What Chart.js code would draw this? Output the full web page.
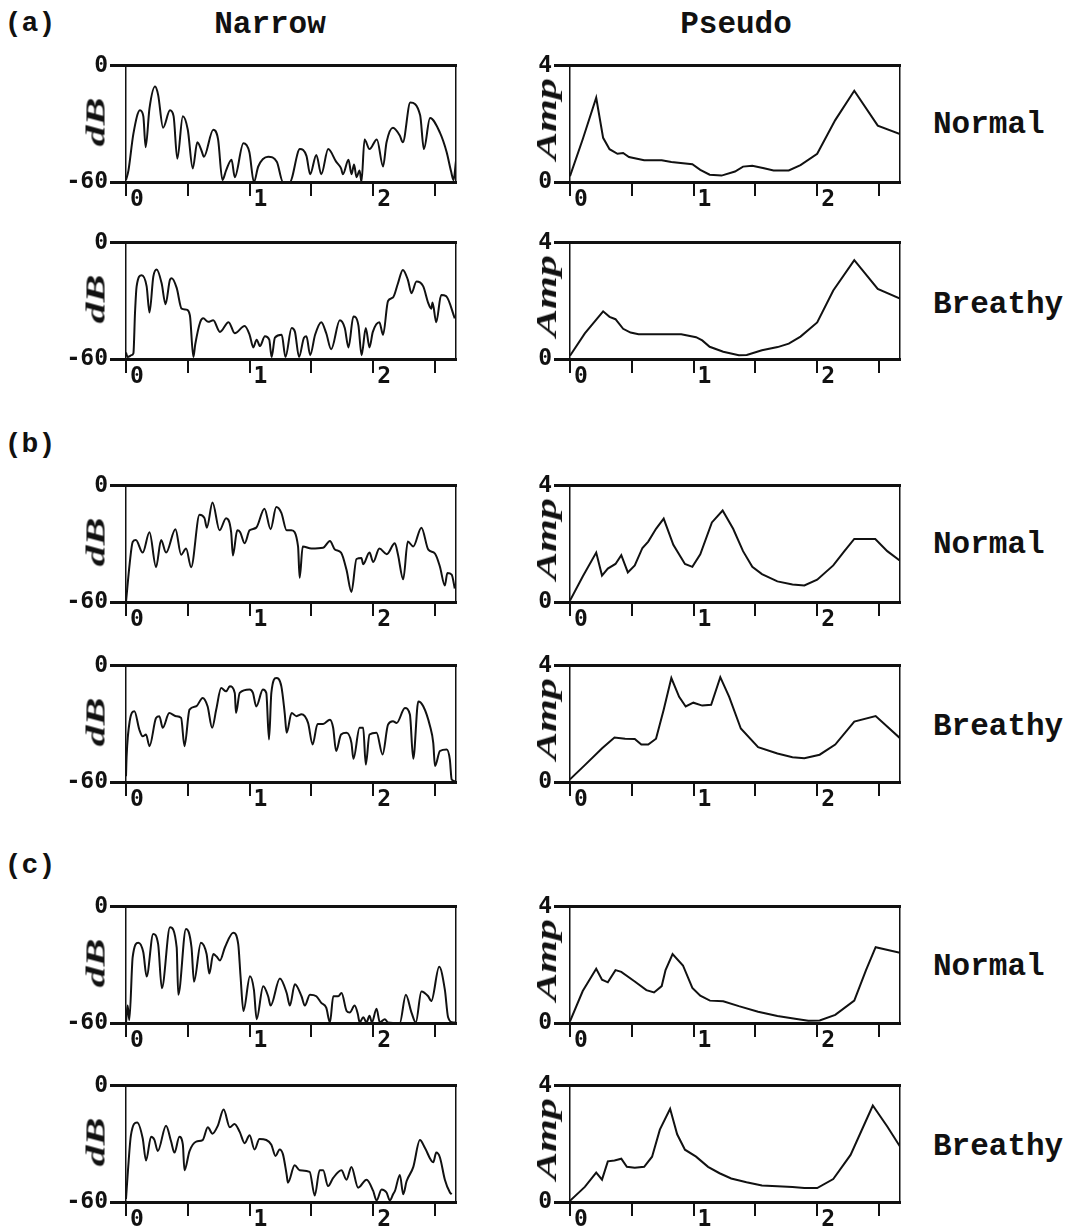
<!DOCTYPE html>
<html>
<head>
<meta charset="utf-8">
<script src="https://cdn.jsdelivr.net/npm/chart.js@4.4.1/dist/chart.umd.min.js"></script>
<style>
  body { margin: 0; background: #fff; }
  #page { position: relative; width: 1073px; height: 1232px; overflow: hidden; }
  canvas { position: absolute; }
  .t { position: absolute; font-family: "Liberation Mono", monospace; font-weight: bold; color: #111;
       white-space: nowrap; transform: translate(-50%, -50%); }
  .row { position: absolute; font-family: "Liberation Mono", monospace; font-weight: bold; color: #111;
         white-space: nowrap; font-size: 31px; transform: translateY(-50%); }
  .ax { position: absolute; font-family: "Liberation Serif", serif; font-weight: bold; font-style: italic;
        color: #111; white-space: nowrap; line-height: 1; }
</style>
</head>
<body>
<div id="page">
  <div class="t" style="left:30px;top:23px;font-size:28px">(a)</div>
  <div class="t" style="left:30px;top:444px;font-size:28px">(b)</div>
  <div class="t" style="left:30px;top:865px;font-size:28px">(c)</div>
  <div class="t" style="left:270px;top:24px;font-size:31px">Narrow</div>
  <div class="t" style="left:736px;top:24px;font-size:31px">Pseudo</div>
  <div class="row" style="left:933px;top:124px">Normal</div>
  <div class="row" style="left:933px;top:304px">Breathy</div>
  <div class="row" style="left:933px;top:544px">Normal</div>
  <div class="row" style="left:933px;top:726px">Breathy</div>
  <div class="row" style="left:933px;top:966px">Normal</div>
  <div class="row" style="left:933px;top:1146px">Breathy</div>
</div>
<script>
// frequency axis (kHz), shared by every panel
const X_MIN = 0, X_MAX = 2.67, X_STEP = 0.5;
const DB_TICKS = [-60, 0];
const AMP_TICKS = [0, 4];

// ---- (a) narrow-band spectra, dB ----
const aNormNarrowF = [0,0.02,0.06,0.113,0.14,0.159,0.19,0.235,0.26,0.30,0.356,0.385,0.415,0.46,0.50,0.54,0.577,0.612,0.63,0.706,0.745,0.78,0.81,0.854,0.88,0.95,0.998,1.035,1.07,1.15,1.22,1.27,1.325,1.407,1.46,1.49,1.54,1.58,1.636,1.70,1.74,1.755,1.80,1.825,1.845,1.865,1.89,1.905,1.93,1.97,2.03,2.08,2.108,2.16,2.215,2.24,2.30,2.38,2.41,2.46,2.54,2.594,2.63,2.65,2.67];
const aNormNarrowDb = [-59,-54,-35,-23,-26,-42,-22,-10.7,-15,-32,-23,-26,-48,-26,-33,-53,-39.5,-44,-47,-33,-38,-59,-54,-48.5,-57.5,-40,-44.5,-60,-52,-47,-49.5,-60,-60,-43,-46.5,-56,-46,-56,-43,-49.5,-53,-56,-48.5,-56,-51,-57.5,-54,-60,-38,-43,-38,-52,-39.5,-32,-36,-39.5,-19,-25.5,-43,-27,-34.5,-44.5,-54.5,-59,-49];
const aBreNarrowF = [0,0.013,0.046,0.06,0.073,0.086,0.127,0.167,0.19,0.221,0.248,0.288,0.32,0.356,0.37,0.41,0.45,0.49,0.517,0.545,0.56,0.60,0.625,0.665,0.706,0.76,0.83,0.88,0.96,1.0,1.03,1.057,1.084,1.124,1.159,1.178,1.205,1.26,1.29,1.34,1.367,1.40,1.44,1.46,1.49,1.53,1.58,1.62,1.66,1.73,1.77,1.80,1.84,1.88,1.906,1.94,1.97,1.997,2.05,2.08,2.12,2.16,2.20,2.24,2.28,2.31,2.35,2.405,2.445,2.47,2.48,2.51,2.55,2.59,2.66];
const aBreNarrowDb = [-56.7,-59,-58,-57,-36,-22.5,-16.7,-22.5,-36,-17.5,-13.8,-20.8,-31.7,-19,-18.3,-23.3,-34,-34.5,-37.5,-59,-52.5,-41,-39,-40.8,-40,-46,-41,-46.7,-43,-47.5,-54,-50,-53.3,-48.3,-50,-59,-49,-47.5,-59,-44,-46,-59,-49,-48.3,-58,-47.5,-41,-46.7,-55,-40,-44,-54,-38,-42.5,-58,-44,-54,-46,-41,-47.5,-30,-28.3,-21,-14,-19,-26,-20,-22.5,-31,-34,-30.8,-41,-27,-27.5,-39];

// ---- (b) narrow-band spectra, dB ----
const bNormNarrowF = [0,0.03,0.054,0.08,0.135,0.19,0.243,0.284,0.324,0.40,0.446,0.486,0.527,0.595,0.635,0.654,0.70,0.757,0.81,0.851,0.865,0.90,0.924,0.96,1.0,1.054,1.12,1.17,1.216,1.257,1.30,1.338,1.392,1.405,1.43,1.50,1.595,1.65,1.69,1.74,1.784,1.824,1.865,1.905,1.919,1.97,2.0,2.05,2.11,2.175,2.20,2.243,2.28,2.324,2.39,2.446,2.5,2.54,2.58,2.6,2.635,2.66];
const bNormNarrowDb = [-60,-40,-29,-28,-34.5,-24,-42,-28,-34.5,-22.4,-35.6,-32.4,-42,-15,-16.7,-21.6,-8.6,-23,-16.7,-24,-36,-23,-24,-29.7,-23,-21.6,-11.8,-22.4,-11,-14,-23,-23,-31.3,-47.5,-31.3,-32.4,-32,-28.5,-32.9,-34.5,-43.4,-54.8,-37.8,-37.3,-40.5,-34.5,-39.4,-32.4,-35.3,-29.7,-35.3,-48.3,-28.8,-31.3,-21.6,-33,-35,-41.8,-51.5,-45,-45.9,-53];
const bBreNarrowF = [0,0.005,0.03,0.068,0.108,0.135,0.162,0.19,0.243,0.27,0.297,0.35,0.405,0.446,0.473,0.514,0.568,0.62,0.66,0.697,0.73,0.77,0.81,0.84,0.88,0.89,0.92,1.0,1.027,1.054,1.108,1.135,1.157,1.176,1.216,1.257,1.284,1.30,1.34,1.38,1.42,1.473,1.51,1.55,1.595,1.65,1.676,1.70,1.74,1.784,1.824,1.84,1.89,1.919,1.94,1.97,2.027,2.076,2.12,2.16,2.19,2.257,2.297,2.324,2.365,2.405,2.46,2.486,2.5,2.54,2.595,2.62,2.635,2.66];
const bBreNarrowDb = [-57,-46.6,-28.6,-23.5,-33,-36.4,-35.5,-41.5,-27,-26,-32,-24.4,-26,-26.9,-41.5,-22.6,-20.9,-16.6,-20.9,-32,-22.6,-11.5,-13.2,-10.6,-14,-24.4,-14,-12.3,-14,-21,-12.3,-14,-38,-14,-6.3,-10.6,-24.4,-34.6,-24.4,-26,-25,-29.5,-40.6,-30,-30,-27.8,-32,-44,-35.5,-34.6,-39.8,-48,-32,-32,-51,-35.5,-34.6,-45.8,-30.4,-28.6,-29.5,-21.8,-25.2,-48,-18.4,-20.9,-31.2,-39.8,-51.8,-44,-43.2,-48.3,-58.7,-59.5];

// ---- (c) narrow-band spectra, dB ----
const cNormNarrowF = [0,0.013,0.027,0.054,0.1,0.14,0.167,0.22,0.26,0.29,0.356,0.41,0.423,0.485,0.53,0.55,0.606,0.652,0.674,0.706,0.733,0.76,0.80,0.868,0.908,0.927,0.95,1.003,1.035,1.057,1.11,1.15,1.17,1.245,1.30,1.326,1.366,1.42,1.447,1.488,1.54,1.58,1.62,1.65,1.677,1.717,1.744,1.785,1.81,1.85,1.876,1.89,1.92,1.946,1.97,1.99,2.027,2.054,2.094,2.12,2.215,2.264,2.31,2.345,2.39,2.445,2.47,2.534,2.58,2.606,2.647,2.67];
const cNormNarrowDb = [-60,-51,-58.5,-26,-18.5,-23.5,-36,-14,-19.3,-42,-10.6,-21,-45.4,-11.4,-21,-38.7,-18.5,-24.4,-34.5,-24.4,-25.7,-27.7,-21,-13.4,-19.3,-36.1,-53.8,-35.8,-42.9,-58,-41,-46.2,-51,-37,-44.5,-51,-40,-46.2,-51,-45.4,-46.2,-49.6,-52.1,-59.7,-46.2,-46.2,-44.5,-53.8,-54.6,-51,-55.5,-59.7,-57,-59.7,-56.3,-59.7,-52.6,-59.7,-58,-59.7,-60,-45.4,-54.6,-59.7,-43.7,-46.2,-48.7,-31,-42.9,-57,-59.7,-59.7];
const cBreNarrowF = [0,0.016,0.04,0.09,0.135,0.162,0.203,0.23,0.257,0.324,0.365,0.392,0.432,0.46,0.473,0.514,0.568,0.62,0.662,0.70,0.743,0.79,0.84,0.878,0.92,0.96,1.0,1.04,1.08,1.135,1.176,1.21,1.243,1.27,1.3,1.31,1.365,1.405,1.486,1.527,1.567,1.595,1.635,1.675,1.743,1.784,1.824,1.878,1.946,2.0,2.027,2.068,2.108,2.135,2.162,2.176,2.216,2.243,2.27,2.324,2.378,2.419,2.486,2.51,2.54,2.58,2.62,2.635];
const cBreNarrowDb = [-58.4,-43.6,-25.5,-18.9,-27.1,-38.6,-26.3,-27.9,-33.7,-20.6,-28.8,-34.5,-26.3,-30.4,-43.6,-33.7,-28.8,-28,-21.4,-24.7,-20.6,-12.3,-21.4,-19.7,-23.8,-29.6,-25.5,-32.9,-27.5,-28,-30.4,-36.2,-32.9,-35.4,-46,-50,-41,-43.6,-44.4,-56.7,-43.6,-43.6,-51.8,-47.7,-43.6,-48.5,-41.9,-52.6,-48.5,-54.3,-59.2,-53.5,-55.1,-59.2,-55.9,-54.3,-46,-56,-49.3,-42,-28,-32.1,-39.5,-34.5,-37,-48.5,-55,-56];

// ---- pseudo spectra, linear amplitude ----
const aNormPseudoF = [0,0.103,0.212,0.268,0.32,0.384,0.43,0.477,0.60,0.742,0.82,0.99,1.054,1.13,1.226,1.335,1.40,1.475,1.57,1.647,1.77,1.865,2.0,2.146,2.30,2.49,2.67];
const aNormPseudoA = [0.2,1.47,2.9,1.52,1.13,0.97,1.0,0.86,0.75,0.75,0.69,0.61,0.42,0.25,0.22,0.36,0.53,0.56,0.47,0.40,0.40,0.58,0.97,2.13,3.14,1.94,1.65];
const aBrePseudoF = [0,0.12,0.268,0.32,0.368,0.43,0.49,0.555,0.742,0.90,1.02,1.07,1.13,1.24,1.366,1.43,1.553,1.68,1.77,1.865,2.0,2.13,2.30,2.49,2.67];
const aBrePseudoA = [0.11,0.88,1.64,1.45,1.37,1.04,0.91,0.85,0.85,0.85,0.75,0.64,0.42,0.25,0.13,0.14,0.30,0.41,0.53,0.77,1.26,2.36,3.40,2.41,2.08];
const bNormPseudoF = [0,0.103,0.212,0.259,0.306,0.368,0.415,0.468,0.524,0.586,0.633,0.696,0.758,0.836,0.93,0.99,1.054,1.148,1.235,1.32,1.40,1.475,1.553,1.678,1.80,1.896,2.0,2.13,2.22,2.30,2.47,2.567,2.67];
const bNormPseudoA = [0.05,0.88,1.70,0.91,1.15,1.31,1.61,1.02,1.26,1.86,2.08,2.52,2.87,1.97,1.31,1.21,1.64,2.74,3.15,2.52,1.75,1.21,0.96,0.71,0.60,0.57,0.77,1.26,1.75,2.17,2.17,1.75,1.42];
const bBrePseudoF = [0,0.12,0.26,0.36,0.446,0.524,0.577,0.633,0.696,0.758,0.82,0.883,0.936,0.998,1.07,1.142,1.216,1.288,1.382,1.522,1.678,1.80,1.896,2.02,2.146,2.30,2.473,2.67];
const bBrePseudoA = [0.09,0.58,1.16,1.53,1.49,1.48,1.29,1.29,1.49,2.49,3.58,2.93,2.60,2.73,2.63,2.66,3.61,2.93,1.84,1.20,0.98,0.85,0.82,0.94,1.29,2.08,2.27,1.51];
const cNormPseudoF = [0,0.103,0.212,0.259,0.306,0.368,0.415,0.524,0.618,0.68,0.742,0.773,0.83,0.914,0.99,1.054,1.132,1.24,1.366,1.522,1.678,1.834,1.928,2.02,2.146,2.30,2.395,2.473,2.67];
const cNormPseudoA = [0.055,1.10,1.87,1.49,1.40,1.82,1.76,1.43,1.13,1.05,1.27,1.82,2.37,1.98,1.21,0.94,0.77,0.75,0.58,0.39,0.24,0.14,0.08,0.09,0.28,0.77,1.82,2.61,2.42];
const cBrePseudoF = [0,0.12,0.212,0.259,0.306,0.36,0.415,0.46,0.524,0.60,0.664,0.727,0.81,0.867,0.93,1.02,1.117,1.21,1.304,1.428,1.553,1.678,1.80,1.896,2.0,2.13,2.27,2.38,2.45,2.567,2.67];
const cBrePseudoA = [0.04,0.52,1.01,0.77,1.40,1.43,1.49,1.21,1.18,1.21,1.56,2.49,3.21,2.33,1.80,1.56,1.21,0.99,0.81,0.68,0.57,0.54,0.52,0.48,0.48,0.79,1.62,2.66,3.32,2.60,1.91];

// page layout of the plot boxes
const ROW_TOPS = [62, 239, 482, 662, 903, 1082];
const COL_LEFTS = [126, 570];
const BOX_W = 330, BOX_H = 120;
const PAD_L = 66, PAD_T = 12, PAD_R = 6, PAD_B = 30;

const panels = [
  [aNormNarrowF, aNormNarrowDb, aNormPseudoF, aNormPseudoA],
  [aBreNarrowF, aBreNarrowDb, aBrePseudoF, aBrePseudoA],
  [bNormNarrowF, bNormNarrowDb, bNormPseudoF, bNormPseudoA],
  [bBreNarrowF, bBreNarrowDb, bBrePseudoF, bBrePseudoA],
  [cNormNarrowF, cNormNarrowDb, cNormPseudoF, cNormPseudoA],
  [cBreNarrowF, cBreNarrowDb, cBrePseudoF, cBrePseudoA],
];

const INK = "#111";
const tickFont = { family: "'DejaVu Sans Mono', monospace", size: 23, weight: "bold" };

function makePanel(row, col, xs, ys) {
  const narrow = col === 0;
  const yTicks = narrow ? DB_TICKS : AMP_TICKS;
  const cv = document.createElement("canvas");
  const w = PAD_L + BOX_W + PAD_R, h = PAD_T + BOX_H + PAD_B;
  cv.width = w; cv.height = h;
  cv.style.left = (COL_LEFTS[col] - PAD_L) + "px";
  cv.style.top = (ROW_TOPS[row] - PAD_T) + "px";
  document.getElementById("page").appendChild(cv);

  new Chart(cv.getContext("2d"), {
    type: "line",
    data: {
      datasets: [{
        data: xs.map((x, i) => ({ x, y: ys[i] })),
        borderColor: INK,
        borderWidth: 2,
        pointRadius: 0,
        tension: 0,
        cubicInterpolationMode: narrow ? "monotone" : "default",
      }],
    },
    options: {
      responsive: false,
      animation: false,
      devicePixelRatio: 1,
      layout: { padding: { left: 0, top: PAD_T, right: PAD_R, bottom: 0 } },
      plugins: { legend: { display: false }, tooltip: { enabled: false } },
      scales: {
        x: {
          type: "linear", position: "bottom", min: X_MIN, max: X_MAX,
          afterFit: (s) => { s.height = PAD_B; },
          border: { display: true, color: INK, width: 3 },
          grid: { drawOnChartArea: false, color: INK, lineWidth: 2, tickLength: 14 },
          ticks: {
            stepSize: X_STEP, includeBounds: false, autoSkip: false,
            maxRotation: 0, minRotation: 0, align: "start", labelOffset: 4, padding: -10,
            color: INK, font: tickFont,
            callback: (v) => (Number.isInteger(v) ? String(v) : ""),
          },
        },
        xTop: {
          type: "linear", position: "top", min: X_MIN, max: X_MAX,
          afterFit: (s) => { s.height = 0; },
          border: { display: true, color: INK, width: 3 },
          grid: { display: false }, ticks: { display: false },
        },
        y: {
          type: "linear", position: "left", min: yTicks[0], max: yTicks[1],
          afterFit: (s) => { s.width = PAD_L; },
          afterBuildTicks: (s) => { s.ticks = yTicks.map((v) => ({ value: v })); },
          border: { display: true, color: INK, width: 1.5 },
          grid: { drawOnChartArea: false, color: INK, lineWidth: 3, tickLength: 16 },
          ticks: { padding: 2, color: INK, font: tickFont },
        },
        yRight: {
          type: "linear", position: "right", min: yTicks[0], max: yTicks[1],
          afterFit: (s) => { s.width = 0; },
          border: { display: true, color: INK, width: 1.5 },
          grid: { display: false }, ticks: { display: false },
        },
      },
    },
  });

  // rotated axis title (dB / Amp), stretched along its length as in the original
  const t = document.createElement("div");
  t.className = "ax";
  t.textContent = narrow ? "dB" : "Amp";
  t.style.fontSize = narrow ? "27px" : "30px";
  t.style.left = (COL_LEFTS[col] - (narrow ? 30 : 24)) + "px";
  t.style.top = (ROW_TOPS[row] + (narrow ? 60 : 57)) + "px";
  t.style.transform = "translate(-50%,-50%) rotate(-90deg) scaleX(" + (narrow ? 1.55 : 1.4) + ")";
  document.getElementById("page").appendChild(t);
}

panels.forEach((p, row) => {
  makePanel(row, 0, p[0], p[1]);
  makePanel(row, 1, p[2], p[3]);
});
</script>
</body>
</html>
